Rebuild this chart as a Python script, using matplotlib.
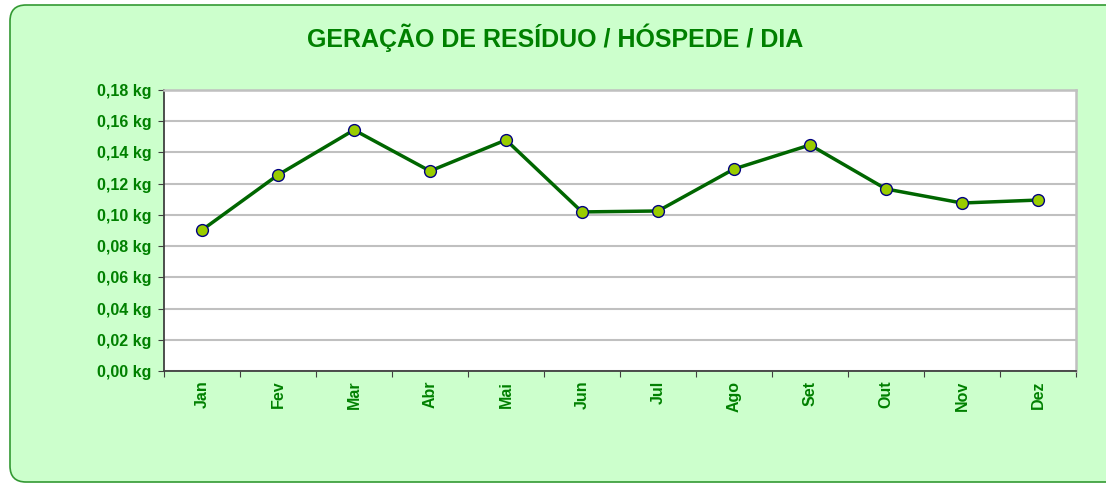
import matplotlib
matplotlib.use("Agg")
import matplotlib.pyplot as plt
from matplotlib.patches import FancyBboxPatch
from matplotlib.ticker import FixedLocator, FuncFormatter

months = ["Jan", "Fev", "Mar", "Abr", "Mai", "Jun",
          "Jul", "Ago", "Set", "Out", "Nov", "Dez"]
waste_per_guest = [0.0903, 0.1256, 0.1544, 0.1281, 0.1480, 0.1019,
                   0.1025, 0.1294, 0.1448, 0.1166, 0.1076, 0.1095]
y_ticks = [0.00, 0.02, 0.04, 0.06, 0.08, 0.10, 0.12, 0.14, 0.16, 0.18]

GREEN_TEXT = "#008000"

plt.rcParams["font.family"] = ["Liberation Sans", "DejaVu Sans"]

fig = plt.figure(figsize=(11.06, 4.83), dpi=100)
fig.patch.set_facecolor("white")

# rounded light green frame behind everything
frame = FancyBboxPatch((0.10, 0.01), 11.3, 4.77,
                       boxstyle="round,pad=0,rounding_size=0.16",
                       transform=fig.dpi_scale_trans,
                       facecolor="#CCFFCC", edgecolor="#339933",
                       linewidth=1.2, zorder=-10)
fig.patches.append(frame)

ax = fig.add_axes([164 / 1106, 1 - 371 / 483, 912 / 1106, 281 / 483])
ax.set_zorder(5)
ax.set_facecolor("white")

x = list(range(len(months)))
ax.plot(x, waste_per_guest, color="#006600", linewidth=2.5,
        marker="o", markersize=8.5, markerfacecolor="#99CC00",
        markeredgecolor="#000080", markeredgewidth=1.0, zorder=3)

ax.set_xlim(-0.5, len(months) - 0.5)
ax.set_ylim(0, 0.18)

ax.set_yticks(y_ticks)
ax.yaxis.set_major_formatter(
    FuncFormatter(lambda v, _: f"{v:.2f} kg".replace(".", ",")))
ax.grid(axis="y", color="#c0c0c0", linewidth=1.5, zorder=1)
ax.set_axisbelow(True)

ax.xaxis.set_major_locator(FixedLocator([i - 0.5 for i in range(len(months) + 1)]))
ax.xaxis.set_major_formatter(FuncFormatter(lambda v, _: ""))
ax.xaxis.set_minor_locator(FixedLocator(x))
ax.set_xticklabels(months, minor=True, rotation=90)
ax.tick_params(axis="x", which="minor", length=0, pad=7)
ax.tick_params(axis="x", which="major", length=4, direction="out",
               color="#404040")
ax.tick_params(axis="y", length=4, direction="out", pad=5, color="#404040")

for lbl in ax.get_xticklabels(minor=True) + ax.get_yticklabels():
    lbl.set_color(GREEN_TEXT)
    lbl.set_fontweight("bold")
    lbl.set_fontsize(11.5)

for side in ["left", "bottom"]:
    ax.spines[side].set_color("#404040")
    ax.spines[side].set_linewidth(1.3)
for side in ["top", "right"]:
    ax.spines[side].set_color("#c0c0c0")
    ax.spines[side].set_linewidth(1.8)

fig.text(0.502, 1 - 38 / 483, "GERAÇÃO DE RESÍDUO / HÓSPEDE / DIA",
         ha="center", va="center", fontsize=18, fontweight="bold",
         color=GREEN_TEXT)

fig.savefig("out.png", dpi=100)
